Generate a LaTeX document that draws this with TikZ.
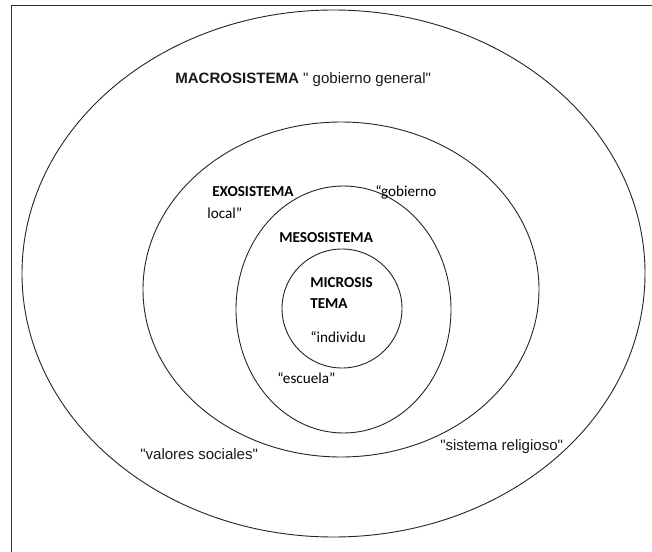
\documentclass[tikz,border=0pt]{standalone}
\usepackage{fontspec}
\usepackage{tikz}
\usetikzlibrary{positioning}
\newfontfamily\arialfont{Liberation Sans}
\newfontfamily\calibrifont{Carlito}

\begin{document}
\begin{tikzpicture}[
        x=0.025cm, y=-0.025cm,
        ring/.style={line width=0.65pt, draw=black!85},
        arial/.style={font=\fontsize{10.7}{13}\selectfont\arialfont,
                      inner sep=0pt, anchor=base west, text=black!90},
        calib/.style={font=\fontsize{10.8}{13}\selectfont\calibrifont,
                      inner sep=0pt, anchor=base west, text=black}
]
\useasboundingbox (0,0) rectangle (652,552);

%--- page frame (left and top edge only) ---------------------
\coordinate (F0) at (11.5,552);
\coordinate (F1) at (11.5,5.5);
\coordinate (F2) at (652,5.5);
\draw[line width=0.8pt, black!80] (F0) -- (F1) -- (F2);

%--- centres of the nested systems ---------------------------
\coordinate (Cmacro) at (333.5,273.5);   % macrosistema
\coordinate (Cexo)   at (341,289.5);     % exosistema
\coordinate (Cmeso)  at (343.5,309.5);   % mesosistema
\coordinate (Cmicro) at (342,308.5);     % microsistema

%--- rings ---------------------------------------------------
\draw[ring] (Cmacro) ellipse [x radius=311.5, y radius=263.5];
\draw[ring] (Cexo)   ellipse [x radius=198,   y radius=167.5];
\draw[ring] (Cmeso)  ellipse [x radius=107.5, y radius=123.5];
\draw[ring] (Cmicro) ellipse [x radius=60,    y radius=59.5];

%--- labels --------------------------------------------------
\node[arial] (macro) at (175,83)
      {\textbf{MACROSISTEMA} " gobierno general"};

\node[calib] (exo)    at (212,196) {\textbf{EXOSISTEMA}};
\node[calib] (exogob) at (375,196) {“gobierno};
\node[calib] (exoloc) at (207,218) {local”};

\node[calib] (meso)   at (279,242) {\textbf{MESOSISTEMA}};
\node[calib] (mesoesc) at (277,383) {“escuela”};

\node[calib] (micro)  at (310,287) {\textbf{MICROSIS}};
\node[calib] (micro2) at (310,308) {\textbf{TEMA}};
\node[calib] (microind) at (310,342) {“individu};

\node[arial] (valores) at (140,459) {"valores sociales"};
\node[arial] (religion) at (440,450) {"sistema religioso"};

\end{tikzpicture}
\end{document}
